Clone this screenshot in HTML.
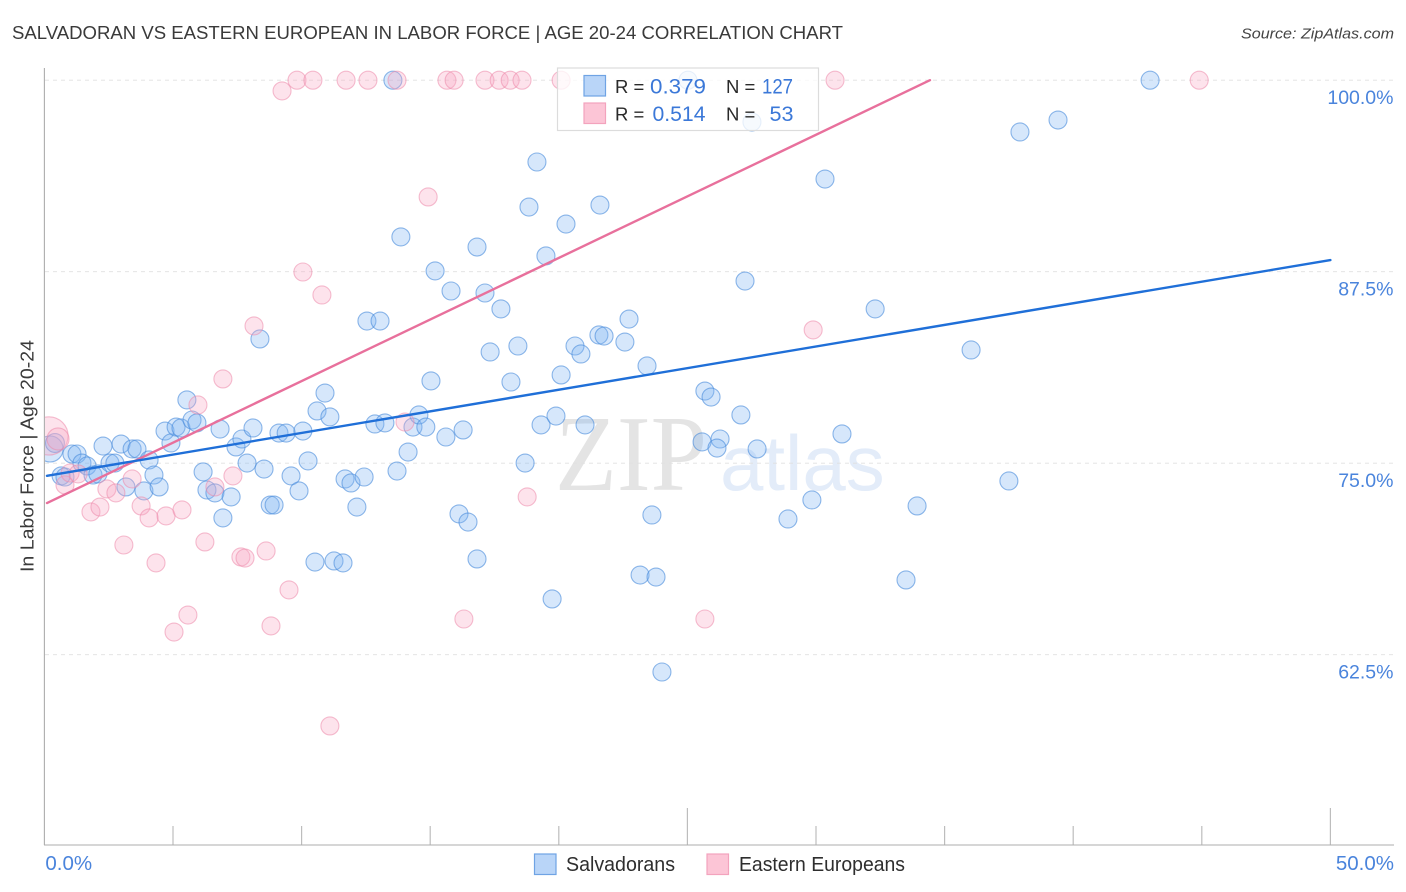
<!DOCTYPE html>
<html lang="en">
<head>
<meta charset="utf-8">
<title>Salvadoran vs Eastern European in Labor Force | Age 20-24 Correlation Chart</title>
<style>
html,body{margin:0;padding:0;background:#fff;}
body{width:1406px;height:892px;overflow:hidden;}
svg{display:block;font-family:"Liberation Sans",sans-serif;}
</style>
</head>
<body>
<svg id="chart" xmlns="http://www.w3.org/2000/svg" width="1406" height="892" viewBox="0 0 1406 892">
  <defs>
    <clipPath id="plot-clip"><rect x="45" y="60" width="1349" height="785"></rect></clipPath>
  </defs>
  <text x="12" y="39" font-size="18.5" fill="#3a3a3a" textLength="831" lengthAdjust="spacingAndGlyphs">SALVADORAN VS EASTERN EUROPEAN IN LABOR FORCE | AGE 20-24 CORRELATION CHART</text>
  <text x="1394" y="38.5" font-size="15" font-style="italic" fill="#444" text-anchor="end" textLength="153" lengthAdjust="spacingAndGlyphs">Source: ZipAtlas.com</text>

  <g>
    <text x="555" y="490" font-family="'Liberation Serif',serif" font-size="108" fill="#e4e4e4" textLength="152" lengthAdjust="spacingAndGlyphs">ZIP</text>
    <text x="720" y="490" font-size="78" fill="#e3ecf9">atlas</text>
  </g>

  <g id="grid"></g>
  <g id="ticks"></g>
  <line x1="44.4" y1="68" x2="44.4" y2="845" stroke="#adadad" stroke-width="1.1"></line>
  <line x1="44" y1="845" x2="1394" y2="845" stroke="#adadad" stroke-width="1.1"></line>

  <g id="points" clip-path="url(#plot-clip)"></g>
  <g id="trends"></g>

  <g id="ylabels"></g>
  <g id="xlabels"></g>
  <text transform="translate(33.5 456) rotate(-90)" font-size="18.5" fill="#3a3a3a" text-anchor="middle" textLength="232" lengthAdjust="spacingAndGlyphs">In Labor Force | Age 20-24</text>

  <g>
    <rect x="557.5" y="68" width="261" height="62.5" fill="#fff" fill-opacity="0.78" stroke="#dcdcdc" stroke-width="1.2"></rect>
    <rect x="584" y="75.5" width="21.5" height="20.5" fill="#b9d5f8" stroke="#6fa3e4" stroke-width="1.2"></rect>
    <rect x="584" y="103" width="21.5" height="20.5" fill="#fcc5d6" stroke="#f3a3bd" stroke-width="1.2"></rect>
    <text x="615" y="93" font-size="18.5" fill="#2a2a2a">R =</text>
    <text x="650" y="93.5" font-size="21" fill="#3b78d8" textLength="56" lengthAdjust="spacingAndGlyphs">0.379</text>
    <text x="726" y="93" font-size="18.5" fill="#2a2a2a">N =</text>
    <text x="762" y="93.5" font-size="21" fill="#3b78d8" textLength="31" lengthAdjust="spacingAndGlyphs">127</text>
    <text x="615" y="120.5" font-size="18.5" fill="#2a2a2a">R =</text>
    <text x="652.5" y="121" font-size="21" fill="#3b78d8" textLength="53" lengthAdjust="spacingAndGlyphs">0.514</text>
    <text x="726" y="120.5" font-size="18.5" fill="#2a2a2a">N =</text>
    <text x="769.5" y="121" font-size="21" fill="#3b78d8" textLength="24" lengthAdjust="spacingAndGlyphs">53</text>
  </g>

  <g>
    <g>
      <rect x="534.5" y="854" width="21.5" height="20.5" fill="#b9d5f8" stroke="#6fa3e4" stroke-width="1.2"></rect>
      <text x="566" y="871" font-size="20" fill="#2e2e2e" textLength="109" lengthAdjust="spacingAndGlyphs">Salvadorans</text>
    </g>
    <g>
      <rect x="707" y="854" width="21.5" height="20.5" fill="#fcc5d6" stroke="#f3a3bd" stroke-width="1.2"></rect>
      <text x="739" y="871" font-size="20" fill="#2e2e2e" textLength="166" lengthAdjust="spacingAndGlyphs">Eastern Europeans</text>
    </g>
  </g>
</svg>
<script>
const salvadoranX = [0.22,0.41,0.65,0.80,1.07,1.27,1.46,1.66,1.89,2.08,2.28,2.55,2.74,2.98,3.17,3.41,3.60,3.87,4.07,4.26,4.46,4.69,4.92,5.12,5.31,5.54,5.74,5.93,6.17,6.32,6.63,6.83,7.26,6.94,7.45,7.68,7.88,8.11,8.54,8.78,8.93,9.12,9.40,9.59,9.90,10.05,10.25,10.52,11.26,11.61,10.91,10.60,11.10,11.69,11.92,12.43,12.15,12.85,13.24,13.71,14.14,14.33,14.56,14.83,15.61,16.28,15.03,12.54,13.05,8.38,13.55,13.86,15.19,15.81,16.82,17.13,17.75,19.50,18.84,19.15,20.28,21.60,22.73,21.56,21.76,22.57,20.63,18.41,17.33,20.86,23.43,20.09,18.14,19.31,19.89,21.02,18.69,16.12,16.47,16.82,19.74,23.16,23.78,23.62,24.01,25.68,25.92,27.08,25.57,26.27,26.15,27.71,27.24,27.51,25.02,30.35,32.30,36.03,31.01,29.84,28.91,33.93,33.50,37.50,37.93,39.41,42.99];
const salvadoranY = [75.93,76.32,74.17,74.10,75.60,75.60,75.01,74.82,74.23,74.30,76.12,75.01,75.01,76.25,73.45,75.93,75.93,73.19,75.21,74.23,73.45,77.10,76.32,77.36,77.30,79.13,77.82,77.63,74.43,73.25,73.06,77.23,72.80,71.43,76.06,76.58,75.01,77.30,74.62,72.27,72.27,76.97,76.97,74.17,73.19,77.10,75.15,68.55,68.62,68.49,79.58,78.41,78.02,73.97,73.71,74.10,72.14,77.56,77.63,74.49,75.73,77.36,78.15,77.36,76.71,77.17,80.37,84.28,84.28,83.11,100,89.77,87.55,86.24,89.11,86.11,85.07,88.53,91.72,94.66,90.61,91.85,84.41,83.37,83.30,82.91,82.65,82.65,82.26,82.13,81.35,80.76,80.30,77.50,78.08,77.50,75.01,71.69,71.16,68.75,66.14,67.70,67.57,71.62,61.37,79.71,79.32,78.15,76.39,76.58,75.99,75.93,86.89,97.27,100,93.55,85.07,82.39,76.91,72.60,71.36,72.21,67.38,73.84,96.62,97.40,100];
const salvadoranWeight = [2.1,1.1];

const easternX = [0.18,0.53,0.80,1.00,1.31,1.81,2.16,2.43,2.78,3.41,3.76,4.07,4.73,5.35,3.09,4.34,5.97,6.63,7.33,6.24,7.64,7.80,8.62,9.51,5.58,5.04,8.81,16.31,25.68,11.10,18.77,6.94,8.15,10.05,10.79,14.92,29.89,14.02,9.24,9.82,10.44,11.73,12.58,13.71,15.65,15.93,17.13,17.68,18.11,18.57,20.09,30.74,44.90];
const easternY = [76.78,76.58,73.58,74.36,74.30,71.82,72.14,73.32,73.06,73.97,72.21,71.43,71.56,71.95,69.66,68.49,78.80,73.45,74.17,69.86,68.88,68.81,69.27,66.73,65.09,63.98,64.38,64.83,64.83,57.85,72.80,80.50,83.96,87.48,85.98,92.38,83.70,77.69,99.30,100,100,100,100,100,100,100,100,100,100,100,100,100,100];
const easternWeight = [4.5,1.5];

const salvadoranTrendX = [0.1,50];
const salvadoranTrendY = [74.18,88.26];
const easternTrendX = [0.1,34.43];
const easternTrendY = [72.4,100];

const yTickValues = [100,87.5,75,62.5];
const yTickLabels = ["100.0%","87.5%","75.0%","62.5%"];
const xTickValues = [5,10,15,20,25,30,35,40,45,50];
const xEndValues = [0,50];
const xEndLabels = ["0.0%","50.0%"];

const SVG_NS = "http://www.w3.org/2000/svg";
function xScale(v){ return 44.4 + v * 25.72; }
function yScale(v){ return 80.2 + (100 - v) * 15.32; }
function radius(w){ return 9 * Math.sqrt(w); }
function make(tag, attrs, parent){
  const el = document.createElementNS(SVG_NS, tag);
  for (const k in attrs) el.setAttribute(k, attrs[k]);
  parent.appendChild(el);
  return el;
}

const gridG = document.getElementById("grid");
const ticksG = document.getElementById("ticks");
const pointsG = document.getElementById("points");
const trendsG = document.getElementById("trends");
const yLabelsG = document.getElementById("ylabels");
const xLabelsG = document.getElementById("xlabels");

yTickValues.forEach(function(v, i){
  const line = make("line", {x1:45, x2:1394, y1:yScale(v), y2:yScale(v), stroke:"#e0e0e0", "stroke-width":0.9, "stroke-dasharray":"4 4"}, gridG);
  
  
  const label = make("text", {x:1393.5, y:yScale(v) + 24, "font-size":19.5, fill:"#4a84dc", "text-anchor":"end"}, yLabelsG);
  label.textContent = yTickLabels[i];
  
  
});

xTickValues.forEach(function(v){
  const major = v % 25 === 0;
  const tick = make("line", {x1:xScale(v), x2:xScale(v), y1:major ? 808 : 826, y2:845, stroke:"#bdbdbd", "stroke-width":1.2}, ticksG);
  
  
});

xEndValues.forEach(function(v, i){
  const label = make("text", {x:i === 0 ? xScale(v) + 1 : 1394, y:870, "font-size":20.5, fill:"#4a84dc", "text-anchor":i === 0 ? "start" : "end"}, xLabelsG);
  label.textContent = xEndLabels[i];
  
  
});

salvadoranX.forEach(function(v, i){
  const w = salvadoranWeight[i] === undefined ? 1 : salvadoranWeight[i];
  const dot = make("circle", {cx:xScale(v), cy:yScale(salvadoranY[i]), r:radius(w), fill:"#7fb3f2", "fill-opacity":0.32, stroke:"#4a8cdc", "stroke-opacity":0.62, "stroke-width":1.1}, pointsG);
  
  
});

easternX.forEach(function(v, i){
  const w = easternWeight[i] === undefined ? 1 : easternWeight[i];
  const dot = make("circle", {cx:xScale(v), cy:yScale(easternY[i]), r:radius(w), fill:"#f9a9c3", "fill-opacity":0.32, stroke:"#ec88aa", "stroke-opacity":0.55, "stroke-width":1.1}, pointsG);
  
  
});

const easternTrend = make("line", {x1:xScale(easternTrendX[0]), y1:yScale(easternTrendY[0]), x2:xScale(easternTrendX[1]), y2:yScale(easternTrendY[1]), stroke:"#e8709c", "stroke-width":2.4, "stroke-linecap":"round"}, trendsG);



const salvadoranTrend = make("line", {x1:xScale(salvadoranTrendX[0]), y1:yScale(salvadoranTrendY[0]), x2:xScale(salvadoranTrendX[1]), y2:yScale(salvadoranTrendY[1]), stroke:"#1f6fd8", "stroke-width":2.4, "stroke-linecap":"round"}, trendsG);


</script>
</body>
</html>
